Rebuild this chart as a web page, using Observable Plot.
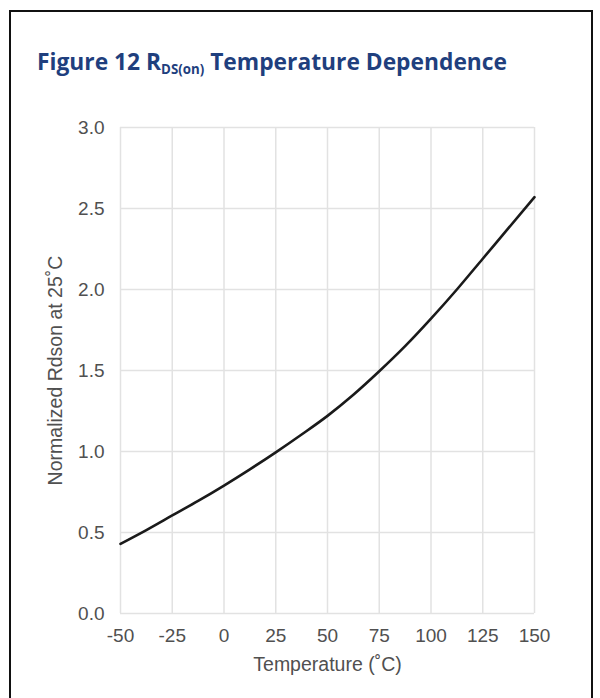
<!DOCTYPE html>
<html><head><meta charset="utf-8">
<script src="https://cdn.jsdelivr.net/npm/d3@7"></script>
<script src="https://cdn.jsdelivr.net/npm/@observablehq/plot@0.6"></script>
<style>
body{margin:0;background:#fff;width:600px;height:698px;overflow:hidden;position:relative;font-family:"Liberation Sans",Arial,sans-serif}
#frame{position:absolute;left:9px;top:10px;width:580px;height:740px;border:2px solid #111;}
#title{position:absolute;left:37px;top:46px;font-family:"Open Sans","Noto Sans",sans-serif;font-weight:bold;font-size:24px;line-height:30px;color:#1f3f7e;white-space:nowrap;transform-origin:0 0}
#title sub{font-size:14px;vertical-align:-4px;line-height:0}
#chart{position:absolute;left:0;top:100px}
#chart g[aria-label="x-axis label"] text, #chart g[aria-label="y-axis label"] text{font-size:19.5px}
</style>
</head><body>
<div id="frame"></div>
<div id="title">Figure 12 R<sub>DS(on)</sub> Temperature Dependence</div>
<div id="chart"></div>
<script>
const temperature = [-50,-37.5,-25,-12.5,0,12.5,25,37.5,50,62.5,75,87.5,100,112.5,125,137.5,150];
const rdson = [0.43,0.515,0.605,0.695,0.79,0.89,0.995,1.105,1.22,1.35,1.495,1.65,1.82,2.0,2.19,2.38,2.57];
const xTicks = [-50,-25,0,25,50,75,100,125,150];
const yTicks = [0,0.5,1.0,1.5,2.0,2.5,3.0];
const xLabel = "Temperature (˚C)";
const yLabel = "Normalized Rdson at 25˚C";

const data = temperature.map((t,i)=>({t, r: rdson[i]}));

const chart = Plot.plot({
  width: 600, height: 598,
  marginLeft: 120, marginRight: 66, marginTop: 27, marginBottom: 85,
  style: {fontFamily: '"Liberation Sans", Arial, sans-serif', fontSize: "19px", color: "#505050", background: "transparent"},
  x: {domain: [-50,150], ticks: xTicks, tickFormat: d => String(d), tickSize: 0, tickPadding: 15,
      label: xLabel, labelAnchor: "center", labelOffset: 57, labelArrow: "none"},
  y: {domain: [0,3], ticks: yTicks, tickFormat: d => d.toFixed(1), tickSize: 0, tickPadding: 16,
      label: yLabel, labelAnchor: "center", labelOffset: 72, labelArrow: "none"},
  marks: [
    Plot.gridX(xTicks, {stroke: "#e2e2e2", strokeOpacity: 1, strokeWidth: 1.5}),
    Plot.gridY(yTicks, {stroke: "#e2e2e2", strokeOpacity: 1, strokeWidth: 1.5}),
    Plot.line(data, {x: "t", y: "r", curve: "monotone-x", stroke: "#1a1a1a", strokeWidth: 2.6})
  ]
});
document.getElementById("chart").appendChild(chart);

const title = document.getElementById("title");
const w = title.getBoundingClientRect().width;
title.style.transform = `scaleX(${470 / w})`;
</script>
</body></html>
